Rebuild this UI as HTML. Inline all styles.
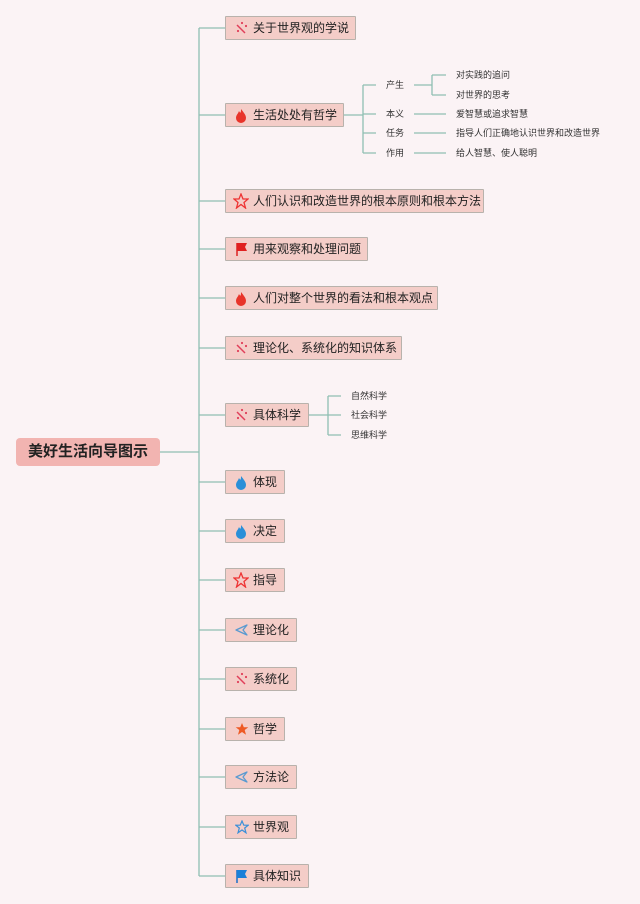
<!DOCTYPE html>
<html><head><meta charset="utf-8"><style>
body{margin:0;width:640px;height:904px;background:#fbf3f5;position:relative;overflow:hidden;font-family:"Liberation Sans","Noto Sans CJK SC",sans-serif;}
.n{position:absolute;left:225px;height:24px;background:#f4cdc8;border:1px solid #b8b2ac;box-sizing:border-box;font-size:12px;line-height:22px;color:#222;padding-left:27px;white-space:nowrap;border-radius:1px;}
.n svg{position:absolute;left:9px;top:4px;}
.t{position:absolute;font-size:9px;color:#333;white-space:nowrap;line-height:12px;}
.root{position:absolute;left:16px;top:438px;width:144px;height:28px;background:#f2b4b1;border-radius:4px;font-size:15px;font-weight:bold;line-height:28px;text-align:center;color:#222;}
</style></head><body>
<svg width="640" height="904" style="position:absolute;left:0;top:0" fill="none" stroke="#8fbfb2" stroke-width="1.3">
<path d="M199 28V876"/>
<path d="M160 452H199"/>
<path d="M199 28H225M199 115H225M199 201H225M199 249H225M199 298H225M199 348H225M199 415H225M199 482H225M199 531H225M199 580H225M199 630H225M199 679H225M199 729H225M199 777H225M199 827H225M199 876H225"/>
<path d="M344 115H363M363 85V153M363 85H376M363 114H376M363 133H376M363 153H376"/>
<path d="M414 85H432M432 75V95M432 75H446M432 95H446M414 114H446M414 133H446M414 153H446"/>
<path d="M309 415H328M328 396V435M328 396H341M328 415H341M328 435H341"/>
</svg>
<div class="root">美好生活向导图示</div>

<div class="n" style="top:16px;width:131px"><svg width="12" height="14"><path d="M2 4L10 12" stroke="#e0405a" stroke-width="1.5"/><circle cx="7" cy="2" r="1.1" fill="#e0405a"/><circle cx="11" cy="5" r="1.1" fill="#e0405a"/><circle cx="3" cy="10" r="1.1" fill="#e0405a"/></svg>关于世界观的学说</div>
<div class="n" style="top:103px;width:119px"><svg width="12" height="15"><path d="M6 1C9 5 11 7 11 10A5 5 0 0 1 1 10C1 7 3 6 4 3C5 5 6 6 6 1Z" fill="#e8342a"/></svg>生活处处有哲学</div>
<div class="n" style="top:189px;width:259px"><svg width="16" height="16" style="left:7px;top:3px"><path d="M8 1L10 6H15L11 9.5L12.5 15L8 11.5L3.5 15L5 9.5L1 6H6Z" stroke="#e33" stroke-width="1.3" fill="none"/></svg>人们认识和改造世界的根本原则和根本方法</div>
<div class="n" style="top:237px;width:143px"><svg width="14" height="15"><path d="M2 1V14" stroke="#d22" stroke-width="1.5"/><path d="M2 1H12L10 5L12 9H2Z" fill="#e02020"/></svg>用来观察和处理问题</div>
<div class="n" style="top:286px;width:213px"><svg width="12" height="15"><path d="M6 1C9 5 11 7 11 10A5 5 0 0 1 1 10C1 7 3 6 4 3C5 5 6 6 6 1Z" fill="#e8342a"/></svg>人们对整个世界的看法和根本观点</div>
<div class="n" style="top:336px;width:177px"><svg width="12" height="14"><path d="M2 4L10 12" stroke="#e0405a" stroke-width="1.5"/><circle cx="7" cy="2" r="1.1" fill="#e0405a"/><circle cx="11" cy="5" r="1.1" fill="#e0405a"/><circle cx="3" cy="10" r="1.1" fill="#e0405a"/></svg>理论化、系统化的知识体系</div>
<div class="n" style="top:403px;width:84px"><svg width="12" height="14"><path d="M2 4L10 12" stroke="#e0405a" stroke-width="1.5"/><circle cx="7" cy="2" r="1.1" fill="#e0405a"/><circle cx="11" cy="5" r="1.1" fill="#e0405a"/><circle cx="3" cy="10" r="1.1" fill="#e0405a"/></svg>具体科学</div>
<div class="n" style="top:470px;width:60px"><svg width="12" height="15"><path d="M6 1C9 5 11 7 11 10A5 5 0 0 1 1 10C1 7 3 6 4 3C5 5 6 6 6 1Z" fill="#2a8fd8"/></svg>体现</div>
<div class="n" style="top:519px;width:60px"><svg width="12" height="15"><path d="M6 1C9 5 11 7 11 10A5 5 0 0 1 1 10C1 7 3 6 4 3C5 5 6 6 6 1Z" fill="#2a8fd8"/></svg>决定</div>
<div class="n" style="top:568px;width:60px"><svg width="16" height="16" style="left:7px;top:3px"><path d="M8 1L10 6H15L11 9.5L12.5 15L8 11.5L3.5 15L5 9.5L1 6H6Z" stroke="#e33" stroke-width="1.3" fill="none"/></svg>指导</div>
<div class="n" style="top:618px;width:72px"><svg width="13" height="14"><path d="M12 2L1 7L12 12L8 7Z" stroke="#5a9ad0" stroke-width="1.3" fill="none" stroke-linejoin="round"/></svg>理论化</div>
<div class="n" style="top:667px;width:72px"><svg width="12" height="14"><path d="M2 4L10 12" stroke="#e0405a" stroke-width="1.5"/><circle cx="7" cy="2" r="1.1" fill="#e0405a"/><circle cx="11" cy="5" r="1.1" fill="#e0405a"/><circle cx="3" cy="10" r="1.1" fill="#e0405a"/></svg>系统化</div>
<div class="n" style="top:717px;width:60px"><svg width="14" height="14"><path d="M7 1L8.8 5.2H13.3L9.7 8L11 12.8L7 10L3 12.8L4.3 8L0.7 5.2H5.2Z" fill="#ee5a24"/></svg>哲学</div>
<div class="n" style="top:765px;width:72px"><svg width="13" height="14"><path d="M12 2L1 7L12 12L8 7Z" stroke="#5a9ad0" stroke-width="1.3" fill="none" stroke-linejoin="round"/></svg>方法论</div>
<div class="n" style="top:815px;width:72px"><svg width="14" height="14"><path d="M7 1L8.8 5.2H13.3L9.7 8L11 12.8L7 10L3 12.8L4.3 8L0.7 5.2H5.2Z" stroke="#3a8fd8" stroke-width="1.2" fill="none"/></svg>世界观</div>
<div class="n" style="top:864px;width:84px"><svg width="14" height="15"><path d="M2 1V14" stroke="#1a6fc8" stroke-width="1.5"/><path d="M2 1H12L10 5L12 9H2Z" fill="#1a7fd8"/></svg>具体知识</div>

<div class="t" style="left:386px;top:79px">产生</div>
<div class="t" style="left:386px;top:108px">本义</div>
<div class="t" style="left:386px;top:127px">任务</div>
<div class="t" style="left:386px;top:147px">作用</div>
<div class="t" style="left:456px;top:69px">对实践的追问</div>
<div class="t" style="left:456px;top:89px">对世界的思考</div>
<div class="t" style="left:456px;top:108px">爱智慧或追求智慧</div>
<div class="t" style="left:456px;top:127px">指导人们正确地认识世界和改造世界</div>
<div class="t" style="left:456px;top:147px">给人智慧、使人聪明</div>
<div class="t" style="left:351px;top:390px">自然科学</div>
<div class="t" style="left:351px;top:409px">社会科学</div>
<div class="t" style="left:351px;top:429px">思维科学</div>
</body></html>
